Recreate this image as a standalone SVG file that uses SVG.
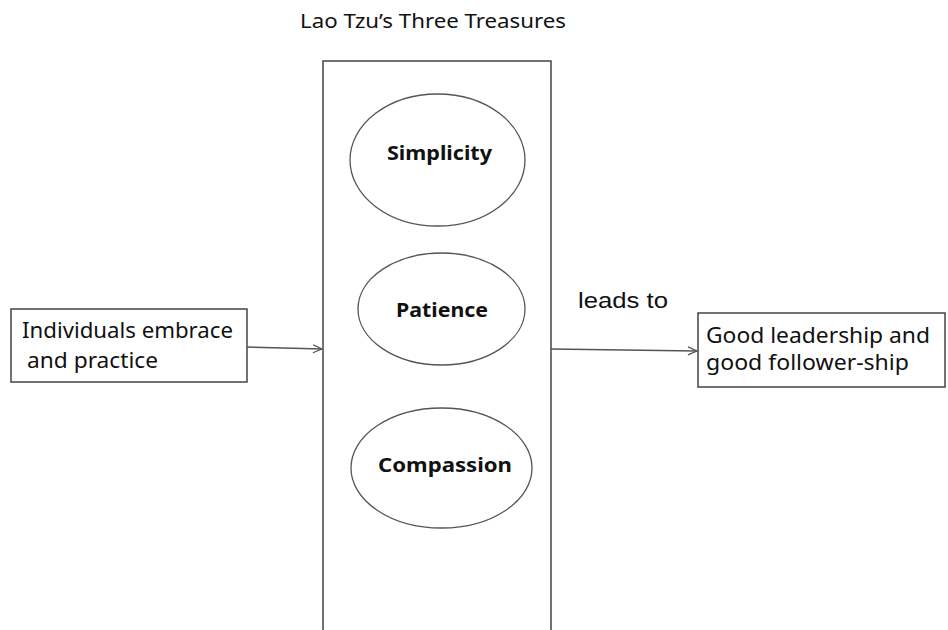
<svg xmlns="http://www.w3.org/2000/svg" width="948" height="630" viewBox="0 0 948 630">
<defs>
<style>
.box{fill:#fff;stroke:#444;stroke-width:1.5}
.ell{fill:#fff;stroke:#555;stroke-width:1.3}
.t{font-family:"Noto Sans","Open Sans",sans-serif;fill:#111}
.b{font-weight:bold}
.c{stroke:#555;stroke-width:1.5;fill:none}
</style>
<marker id="ah" markerWidth="12" markerHeight="12" refX="10" refY="5" orient="auto" markerUnits="userSpaceOnUse">
<path d="M1,1 L10,5 L1,9" fill="none" stroke="#555" stroke-width="1.3"/>
</marker>
</defs>
<rect width="948" height="630" fill="#fff"/>
<text class="t" x="300" y="28" font-size="19" textLength="266" lengthAdjust="spacingAndGlyphs">Lao Tzu’s Three Treasures</text>
<g id="treasures">
<rect class="box" x="323" y="61" width="228" height="600"/>
</g>
<g id="simplicity">
<ellipse class="ell" cx="437.5" cy="160" rx="87.5" ry="66"/>
<text class="t b" x="387" y="160" font-size="20" textLength="105" lengthAdjust="spacingAndGlyphs">Simplicity</text>
</g>
<g id="patience">
<ellipse class="ell" cx="441.5" cy="309" rx="83.5" ry="56"/>
<text class="t b" x="396" y="317" font-size="20" textLength="92" lengthAdjust="spacingAndGlyphs">Patience</text>
</g>
<g id="compassion">
<ellipse class="ell" cx="441.5" cy="468" rx="90.5" ry="60"/>
<text class="t b" x="378" y="472" font-size="20" textLength="134" lengthAdjust="spacingAndGlyphs">Compassion</text>
</g>
<g id="individuals">
<rect class="box" x="11" y="309" width="236" height="73"/>
<text class="t" x="22" y="338" font-size="21" textLength="211" lengthAdjust="spacingAndGlyphs">Individuals embrace</text>
<text class="t" x="27" y="368" font-size="21" textLength="131" lengthAdjust="spacingAndGlyphs">and practice</text>
</g>
<g id="leadership">
<rect class="box" x="698" y="313" width="247" height="74"/>
<text class="t" x="706" y="343" font-size="21" textLength="224" lengthAdjust="spacingAndGlyphs">Good leadership and</text>
<text class="t" x="706" y="370" font-size="21" textLength="203" lengthAdjust="spacingAndGlyphs">good follower-ship</text>
</g>
<g id="connectors">
<line class="c" x1="247" y1="347" x2="322" y2="349" marker-end="url(#ah)"/>
<line class="c" x1="551" y1="349" x2="697" y2="351" marker-end="url(#ah)"/>
<text x="578" y="308" font-family="Liberation Sans, Arial, sans-serif" font-size="22" fill="#111" textLength="90" lengthAdjust="spacingAndGlyphs">leads to</text>
</g>
</svg>
